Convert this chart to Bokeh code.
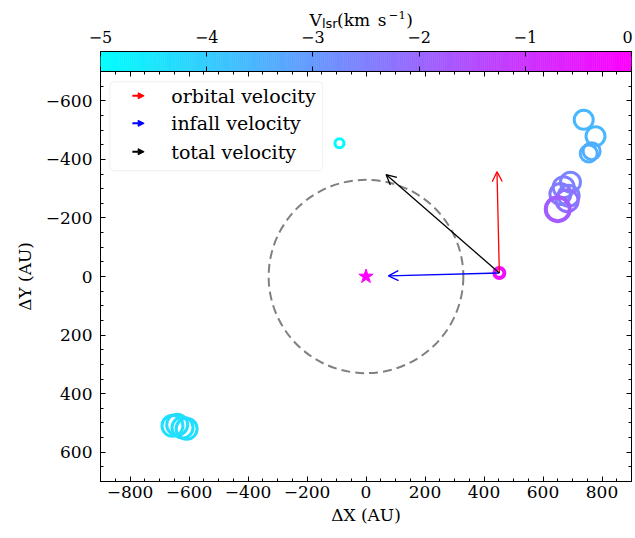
import numpy as np
from bokeh.plotting import figure
from bokeh.models import (Range1d, LinearAxis, FixedTicker, CustomJSTickFormatter, Arrow,
                          OpenHead, NormalHead, Label, BoxAnnotation, LinearColorMapper,
                          ColumnDataSource)
from bokeh.core.properties import value
from bokeh.layouts import column
from bokeh.embed import file_html
from bokeh.resources import INLINE

# ---------------- data ----------------
ring_x = [-90, 452, -656, -640, -622, -608, 738, 778, 755, 765, 693, 670, 659, 687, 682, 650]
ring_y = [-455, -12, 510, 506, 516, 520, -535, -479, -420, -428, -322, -305, -282, -276, -259, -230]
ring_v = [-4.9, -0.3, -4.4, -4.3, -4.4, -4.3, -3.6, -3.6, -3.45, -3.4, -2.6, -2.5, -2.4, -2.5, -2.2, -1.8]
ring_size = [9, 10, 21, 21, 21, 21, 19, 19, 17, 17, 20, 21, 21, 21, 22, 24]
ring_lw = [3, 4, 3, 3, 3, 3, 3, 3, 3, 3, 3, 3, 3, 3, 3, 4]

source_xy = [452, -12]
orbital_vec = [-8, -346]
infall_vec = [-376, 10]
total_vec = [orbital_vec[0] + infall_vec[0], orbital_vec[1] + infall_vec[1]]

star_x = [0]
star_y = [0]
orbit_radius = 330

x_ticks = [-800, -600, -400, -200, 0, 200, 400, 600, 800]
y_ticks = [-600, -400, -200, 0, 200, 400, 600]
cbar_ticks = [-5, -4, -3, -2, -1, 0]
v_low, v_high = -5, 0

legend_labels = ["orbital velocity", "infall velocity", "total velocity"]
legend_colors = ["red", "blue", "black"]

# ---------------- styling helpers ----------------
FONT = "DejaVu Serif"
TICK_FS = "17px"
cool = ["#%02x%02x%02x" % (int(round(255 * t)), 255 - int(round(255 * t)), 255)
        for t in np.linspace(0, 1, 256)]
mapper = LinearColorMapper(palette=cool, low=v_low, high=v_high)

minus_fmt = CustomJSTickFormatter(code="""
    return tick < 0 ? '\u2212' + Math.abs(tick).toString() : tick.toString();
""")


def fmt(t):
    return ("\u2212" + str(abs(t))) if t < 0 else str(t)


def style_axis(ax, show_labels):
    ax.major_tick_in = 5
    ax.major_tick_out = 0
    ax.minor_tick_in = 3
    ax.minor_tick_out = 0
    ax.axis_line_color = "black"
    ax.major_tick_line_color = "black"
    ax.minor_tick_line_color = "black"
    ax.formatter = minus_fmt
    if show_labels:
        ax.major_label_text_font = FONT
        ax.major_label_text_font_size = TICK_FS
        ax.major_label_text_color = "black"
        ax.axis_label_text_font = FONT
        ax.axis_label_text_font_size = TICK_FS
        ax.axis_label_text_font_style = "normal"
        ax.axis_label_text_color = "black"
    else:
        ax.major_label_text_font_size = "1px"
        ax.major_label_text_color = None
        ax.major_label_standoff = 0
        ax.axis_label = None


# ---------------- colorbar title / tick-label strip ----------------
PPU = 531 / (v_high - v_low)           # pixels per velocity unit on the colorbar
tf = figure(frame_width=635, frame_height=51,
            x_range=Range1d(v_low - 100 / PPU, v_high + 4 / PPU), y_range=Range1d(51, 0),
            output_backend="svg", toolbar_location=None,
            x_axis_location=None, y_axis_location=None,
            min_border_left=0, min_border_right=0, min_border_top=0, min_border_bottom=0)
tf.frame_align = False
tf.grid.visible = False
tf.outline_line_color = None

# tick labels of the colorbar
cbar_label_src = ColumnDataSource(dict(
    x=cbar_ticks, y=[36] * len(cbar_ticks), text=[fmt(t) for t in cbar_ticks],
    xo=[0] * (len(cbar_ticks) - 1) + [-4]))
tf.text(x="x", y="y", text="text", x_offset="xo", source=cbar_label_src,
        text_font=value(FONT), text_font_size="16px", text_align="center",
        text_baseline="middle", text_color="black")

# colorbar title: V_lsr (km s^-1)
title_text = ["V", "lsr", "(km", "s", "\u22121", ")"]
title_x = [-3.032, -2.915, -2.773, -2.39, -2.285, -2.12]
title_y = [19.5, 23.3, 19.5, 19.5, 14.5, 19.5]
title_font = [FONT, "DejaVu Sans", FONT, FONT, FONT, FONT]
title_fs = ["17px", "13px", "17px", "17px", "11.5px", "17px"]
title_src = ColumnDataSource(dict(x=title_x, y=title_y, text=title_text, font=title_font,
                                  fs=title_fs))
tf.text(x="x", y="y", text="text", text_font="font", text_font_size="fs", source=title_src,
        text_align="left", text_baseline="alphabetic", text_color="black")

# ---------------- colorbar figure ----------------
cb = figure(frame_width=531, frame_height=20, x_range=Range1d(v_low, v_high),
            y_range=Range1d(0, 1), output_backend="svg", toolbar_location=None,
            x_axis_location="above", y_axis_location=None,
            min_border_left=100, min_border_right=4, min_border_top=0, min_border_bottom=0)
cb.grid.visible = False
cb.outline_line_color = "black"
edges = np.linspace(v_low, v_high, len(cool) + 1)
cb.quad(left=edges[:-1], right=edges[1:], bottom=0, top=1, fill_color=cool, line_color=cool,
        line_width=0.6)
cb.xaxis.ticker = FixedTicker(ticks=cbar_ticks, minor_ticks=[])
style_axis(cb.xaxis[0], False)
cb_bottom = LinearAxis(ticker=FixedTicker(ticks=cbar_ticks, minor_ticks=[]))
style_axis(cb_bottom, False)
cb.add_layout(cb_bottom, "below")

# ---------------- main figure ----------------
p = figure(frame_width=531, frame_height=410, x_range=Range1d(-900, 900),
           y_range=Range1d(700, -700), output_backend="svg", toolbar_location=None,
           min_border_left=100, min_border_right=4, min_border_top=0, min_border_bottom=46)
p.grid.visible = False
p.outline_line_color = "black"
p.background_fill_color = "white"

xt = FixedTicker(ticks=x_ticks, minor_ticks=list(range(-900, 901, 50)))
yt = FixedTicker(ticks=y_ticks, minor_ticks=list(range(-700, 701, 50)))
p.xaxis.ticker = xt
p.yaxis.ticker = yt
p.xaxis.axis_label = "\u0394X (AU)"
p.yaxis.axis_label = "\u0394Y (AU)"
style_axis(p.xaxis[0], True)
style_axis(p.yaxis[0], True)
p.xaxis[0].major_label_standoff = 4
p.xaxis[0].axis_label_standoff = 4
p.yaxis[0].major_label_standoff = 8
p.yaxis[0].axis_label_standoff = 8
top_ax = LinearAxis(ticker=xt)
style_axis(top_ax, False)
p.add_layout(top_ax, "above")
right_ax = LinearAxis(ticker=yt)
style_axis(right_ax, False)
p.add_layout(right_ax, "right")

# dashed orbit circle
p.ellipse(x=[0], y=[0], width=[2 * orbit_radius], height=[2 * orbit_radius],
          fill_color=None, line_color="gray", line_width=2, line_dash="9 5")

# rings coloured by velocity
src = ColumnDataSource(dict(x=ring_x, y=ring_y, v=ring_v, s=ring_size, lw=ring_lw))
p.scatter(x="x", y="y", size="s", source=src, marker="circle", fill_color=None,
          line_color={"field": "v", "transform": mapper}, line_width="lw")

# star
p.scatter(x=star_x, y=star_y, marker="star", size=15, fill_color="magenta",
          line_color="magenta")

# velocity arrows
for vec, col in [(orbital_vec, "red"), (infall_vec, "blue"), (total_vec, "black")]:
    p.add_layout(Arrow(end=OpenHead(size=10, line_color=col, line_width=1.3),
                       x_start=source_xy[0], y_start=source_xy[1],
                       x_end=source_xy[0] + vec[0], y_end=source_xy[1] + vec[1],
                       line_color=col, line_width=1.3))

# legend (box, arrow symbols and texts)
p.add_layout(BoxAnnotation(left=-868, right=-147, top=-665, bottom=-361,
                           fill_color="white", fill_alpha=0.85, line_color="#cccccc",
                           line_width=1, border_radius=4))
leg_rows = [-617, -523, -426]
for lab, col, ry in zip(legend_labels, legend_colors, leg_rows):
    p.add_layout(Arrow(end=NormalHead(size=6, fill_color=col, line_color=col),
                       x_start=-792, y_start=ry, x_end=-752, y_end=ry,
                       line_color=col, line_width=2))
    p.add_layout(Label(x=-660, y=ry, text=lab, text_font=FONT, text_font_size="19px",
                       text_baseline="middle", text_align="left", text_color="black"))

layout = column(tf, cb, p, spacing=0)
open("out.html", "w").write(file_html(layout, INLINE))
